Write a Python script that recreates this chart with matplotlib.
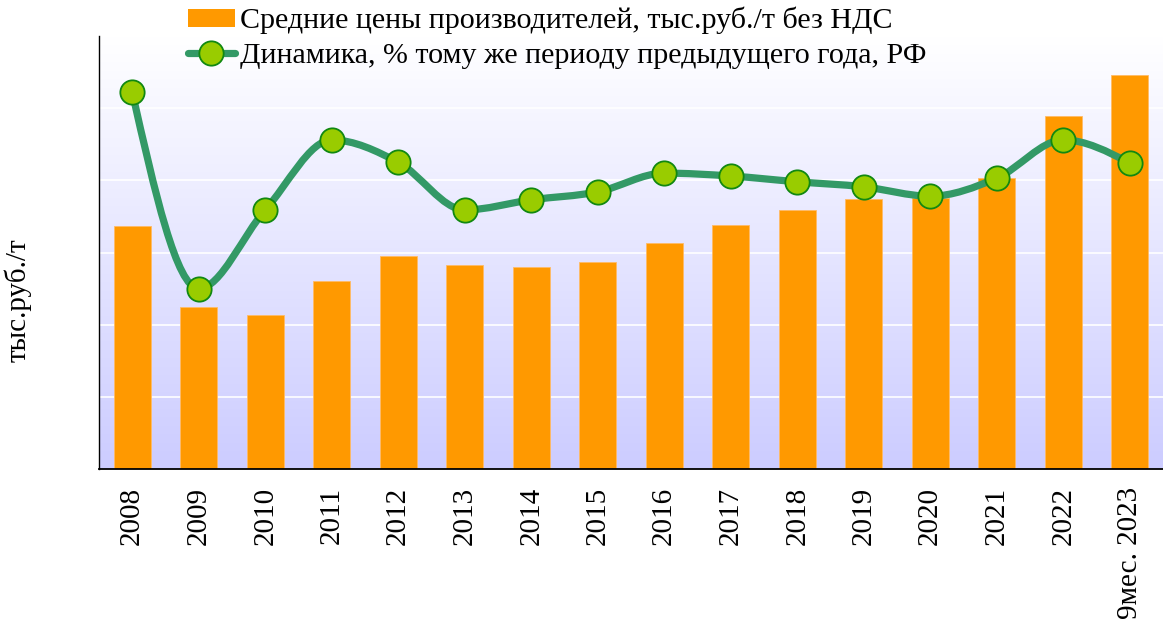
import numpy as np
import matplotlib
matplotlib.use("Agg")
import matplotlib.pyplot as plt
from matplotlib.path import Path
from matplotlib.patches import PathPatch, Patch
from matplotlib.lines import Line2D
from matplotlib.colors import LinearSegmentedColormap

categories = ["2008", "2009", "2010", "2011", "2012", "2013", "2014", "2015",
              "2016", "2017", "2018", "2019", "2020", "2021", "2022", "9мес. 2023"]
prices = [33.7, 22.4, 21.4, 26.0, 29.5, 28.3, 28.0, 28.7,
          31.3, 33.8, 35.9, 37.4, 37.5, 40.3, 48.9, 54.6]
dynamics = [52.2, 25.0, 35.9, 45.6, 42.5, 35.9, 37.3, 38.4,
            41.0, 40.6, 39.8, 39.1, 37.8, 40.3, 45.6, 42.4]

label_bars = "Средние цены производителей, тыс.руб./т без НДС"
label_line = "Динамика, % тому же периоду предыдущего года, РФ"
ylabel = "тыс.руб./т"

plt.rcParams['font.family'] = ['Liberation Serif', 'DejaVu Serif']

W, H = 1163, 621
fig = plt.figure(figsize=(W / 100, H / 100), dpi=100)
ax = fig.add_axes([99 / W, 1 - 469 / H, 1 - 99 / W, (469 - 36) / H])

x = np.arange(len(categories))
ax.set_xlim(-0.5, len(categories) - 0.5)
ax.set_ylim(0, 60)

# gradient background
cmap = LinearSegmentedColormap.from_list("bg", ["#ccccff", "#ffffff"])
grad = np.linspace(0, 1, 256).reshape(-1, 1)
ax.imshow(grad, cmap=cmap, origin="lower", aspect="auto",
          extent=(-0.5, len(categories) - 0.5, 0, 60), zorder=0)

for gy in [10, 20, 30, 40, 50]:
    ax.axhline(gy, color="white", lw=1.2, zorder=1)

ax.bar(x, prices, width=0.556, color="#ff9900", edgecolor="#ffbb66",
       linewidth=0.6, zorder=2)

ax2 = ax.twinx()
ax2.set_ylim(0, 60)
ax2.set_xlim(-0.5, len(categories) - 0.5)
ax2.axis("off")

# monotone cubic smoothing (d3 monotoneX style)
xs = x.astype(float)
ys = np.array(dynamics, dtype=float)
n = len(xs)
h = np.diff(xs)
s = np.diff(ys) / h
t = np.zeros(n)
for i in range(1, n - 1):
    s0, s1 = s[i - 1], s[i]
    p = (s0 * h[i] + s1 * h[i - 1]) / (h[i - 1] + h[i])
    t[i] = (np.sign(s0) + np.sign(s1)) * min(abs(s0), abs(s1), 0.5 * abs(p))
t[0] = (3 * s[0] - t[1]) / 2
t[-1] = (3 * s[-1] - t[-2]) / 2
verts = [(xs[0], ys[0])]
codes = [Path.MOVETO]
for i in range(n - 1):
    dx = h[i] / 3
    verts += [(xs[i] + dx, ys[i] + dx * t[i]),
              (xs[i + 1] - dx, ys[i + 1] - dx * t[i + 1]),
              (xs[i + 1], ys[i + 1])]
    codes += [Path.CURVE4] * 3
ax2.add_patch(PathPatch(Path(verts, codes), facecolor="none",
                        edgecolor="#339966", lw=5.2, zorder=3,
                        capstyle="round", joinstyle="round"))
ax2.plot(xs, ys, linestyle="none", marker="o", markersize=17.5,
         markerfacecolor="#99cc00", markeredgecolor="#118811",
         markeredgewidth=1.3, zorder=4)

ax.set_yticks([])
ax.set_xticks(x)
ax.set_xticklabels(categories, rotation=90, fontsize=21, va="top", ha="center")
ax.tick_params(axis="x", length=0, pad=13)
for side in ["top", "right"]:
    ax.spines[side].set_visible(False)
ax.spines["left"].set_color("black")
ax.spines["bottom"].set_color("black")
ax.spines["left"].set_linewidth(1.0)
ax.spines["bottom"].set_linewidth(1.3)
ax.spines["left"].set_zorder(5)
ax.spines["bottom"].set_zorder(5)

fig.text(18 / W, 1 - 300 / H, ylabel, rotation=90, fontsize=21,
         ha="center", va="center")

handles = [Patch(facecolor="#ff9900", edgecolor="none"),
           Line2D([0], [0], color="#339966", lw=5.2, marker="o",
                  markersize=17.5, markerfacecolor="#99cc00",
                  markeredgecolor="#118811", markeredgewidth=1.3,
                  solid_capstyle="round")]
fig.legend(handles, [label_bars, label_line], loc="upper left",
           bbox_to_anchor=(188 / W, 1 - 7 / H), frameon=False,
           fontsize=21.6, handlelength=1.55, handleheight=0.55,
           handletextpad=0.2, labelspacing=0.27, borderpad=0,
           borderaxespad=0)

fig.savefig("out.png", dpi=100)
